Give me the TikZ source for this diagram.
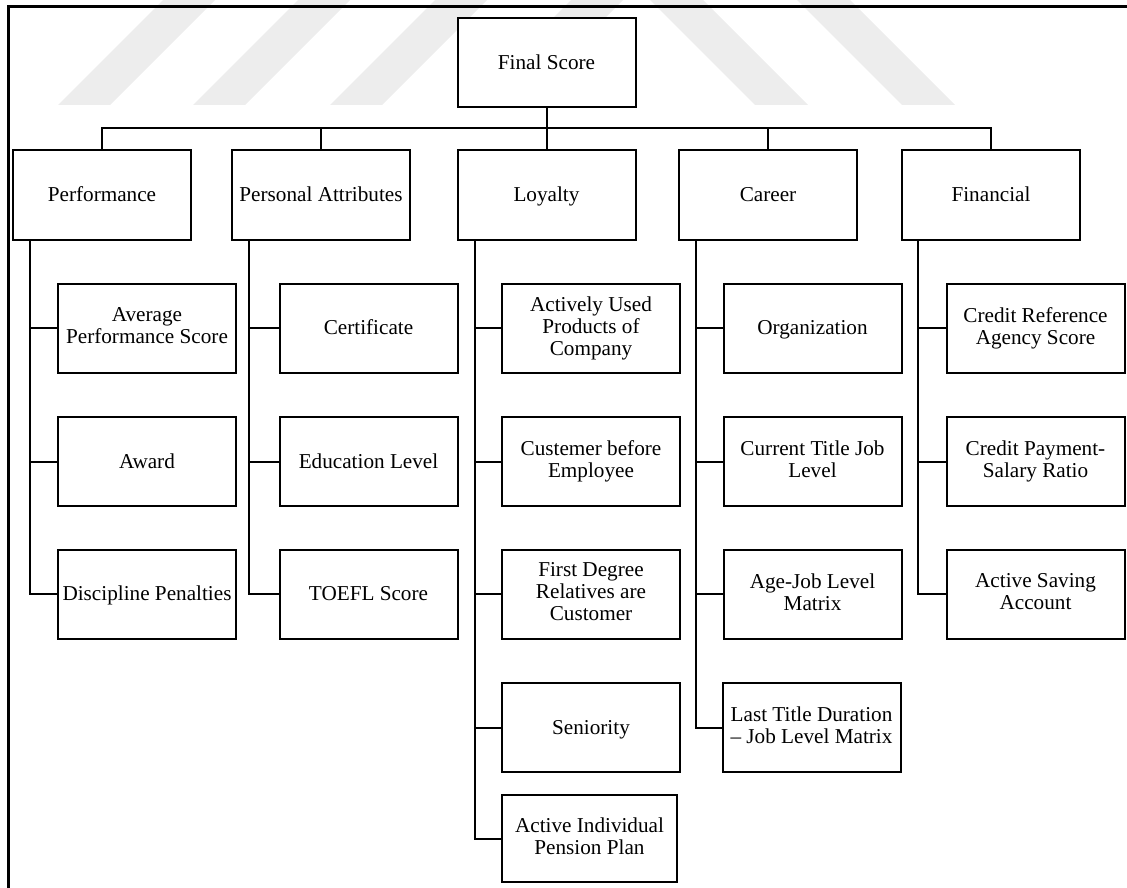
\documentclass[tikz,border=0pt]{standalone}
\usepackage{fontspec}
\setmainfont{Liberation Serif}
\newcommand\boxstrut{\rule[-4.3pt]{0pt}{22pt}}
\begin{document}
\begin{tikzpicture}[x=1pt,y=-1pt,
  box/.style={draw=black, fill=white, line width=2pt, minimum width=178pt, minimum height=89pt,
    inner sep=2pt, align=center, font=\fontsize{21.2}{22}\selectfont,
    execute at begin node={\boxstrut}, execute at end node={\boxstrut}},
  link/.style={draw=black, line width=2pt},
  frameline/.style={draw=black, line width=3pt},
  wmark/.style={fill=black!7, draw=none}]
\useasboundingbox (0,0) rectangle (1127,888);
% watermark
\fill[wmark] (58,105) -- (110,105) -- (215,0) -- (163,0) -- cycle;
\fill[wmark] (193,105) -- (245,105) -- (350,0) -- (298,0) -- cycle;
\fill[wmark] (330,105) -- (382,105) -- (487,0) -- (435,0) -- cycle;
\fill[wmark] (466,105) -- (518,105) -- (623,0) -- (571,0) -- cycle;
\fill[wmark] (755,105) -- (808,105) -- (703,0) -- (650,0) -- cycle;
\fill[wmark] (902,105) -- (955,105) -- (850,0) -- (797,0) -- cycle;
% frame
\draw[frameline] (8,888) -- (8,7) -- (1127,7);
% root and level 1
\node[box] (final) at (546.5,62.5) {Final Score};
\node[box] (perf) at (102,195) {Performance};
\node[box] (pers) at (321,195) {Personal Attributes};
\node[box] (loy) at (546.5,195) {Loyalty};
\node[box] (car) at (768,195) {Career};
\node[box] (fin) at (991,195) {Financial};
% Performance children
\node[box] (p1) at (147,328) {Average\\Performance Score};
\node[box] (p2) at (147,461.5) {Award};
\node[box] (p3) at (147,594) {Discipline Penalties};
% Personal attributes children
\node[box] (a1) at (368.5,328) {Certificate};
\node[box] (a2) at (368.5,461.5) {Education Level};
\node[box] (a3) at (368.5,594) {TOEFL Score};
% Loyalty children
\node[box] (l1) at (591,328) {Actively Used\\Products of\\Company};
\node[box] (l2) at (591,461.5) {Custemer before\\Employee};
\node[box] (l3) at (591,594) {First Degree\\Relatives are\\Customer};
\node[box] (l4) at (591,727.5) {Seniority};
\node[box, minimum width=175pt, minimum height=87pt] (l5) at (589.5,838.5) {Active Individual\\Pension Plan};
% Career children
\node[box] (c1) at (812.5,328) {Organization};
\node[box] (c2) at (812.5,461.5) {Current Title Job\\Level};
\node[box] (c3) at (812.5,594) {Age-Job Level\\Matrix};
\node[box] (c4) at (811.5,727.5) {Last Title Duration\\– Job Level Matrix};
% Financial children
\node[box] (f1) at (1035.5,328) {Credit Reference\\Agency Score};
\node[box] (f2) at (1035.5,461.5) {Credit Payment-\\Salary Ratio};
\node[box] (f3) at (1035.5,594) {Active Saving\\Account};
% bus
\coordinate (bus) at (0,128);
\draw[link] (final.south) -- (loy.north);
\draw[link] (perf.north) |- (bus -| fin.north) -- (fin.north);
\draw[link] (pers.north) -- (pers.north |- bus);
\draw[link] (car.north) -- (car.north |- bus);
% trunks
\coordinate (tp) at ([xshift=18pt]perf.south west);
\coordinate (ta) at ([xshift=18pt]pers.south west);
\coordinate (tl) at ([xshift=18pt]loy.south west);
\coordinate (tc) at ([xshift=18pt]car.south west);
\coordinate (tf) at ([xshift=17pt]fin.south west);
\draw[link] (tp) |- (p3.west);
\draw[link] (p1.west) -- (p1.west -| tp);
\draw[link] (p2.west) -- (p2.west -| tp);
\draw[link] (ta) |- (a3.west);
\draw[link] (a1.west) -- (a1.west -| ta);
\draw[link] (a2.west) -- (a2.west -| ta);
\draw[link] (tl) |- (l5.west);
\draw[link] (l1.west) -- (l1.west -| tl);
\draw[link] (l2.west) -- (l2.west -| tl);
\draw[link] (l3.west) -- (l3.west -| tl);
\draw[link] (l4.west) -- (l4.west -| tl);
\draw[link] (tc) |- (c4.west);
\draw[link] (c1.west) -- (c1.west -| tc);
\draw[link] (c2.west) -- (c2.west -| tc);
\draw[link] (c3.west) -- (c3.west -| tc);
\draw[link] (tf) |- (f3.west);
\draw[link] (f1.west) -- (f1.west -| tf);
\draw[link] (f2.west) -- (f2.west -| tf);
\end{tikzpicture}
\end{document}
